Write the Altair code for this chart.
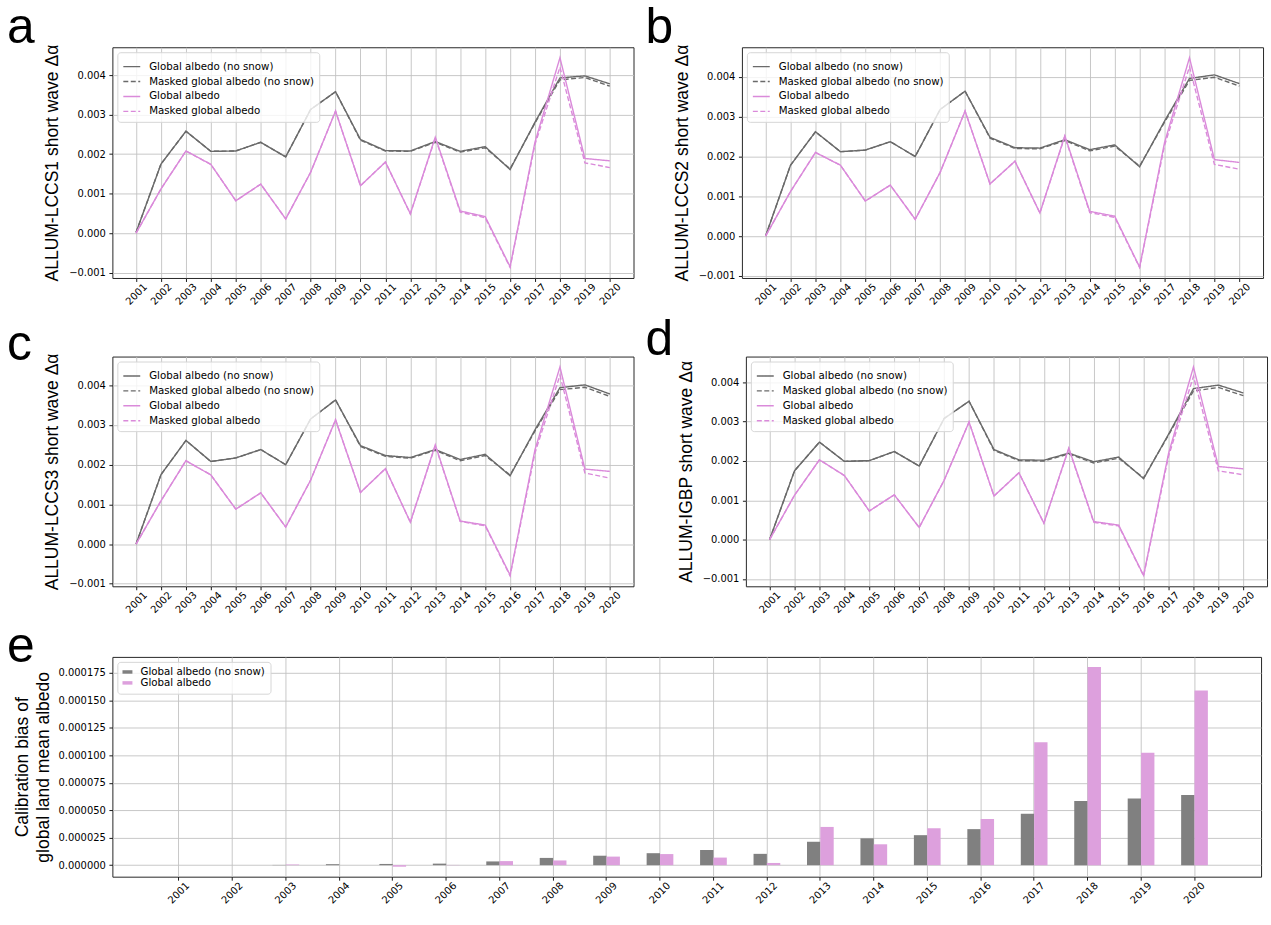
import altair as alt
import pandas as pd

years = list(range(2001, 2021))

series_names = [
    "Global albedo (no snow)",
    "Masked global albedo (no snow)",
    "Global albedo",
    "Masked global albedo",
]

# ---- panel a: ALLUM-LCCS1 ----
a_nosnow = [0.00002, 0.00175, 0.00258, 0.00207, 0.00208, 0.00230, 0.00193, 0.00313, 0.00358, 0.00237,
            0.00209, 0.00208, 0.00232, 0.00207, 0.00219, 0.00161, 0.00281, 0.00393, 0.00398, 0.00378]
a_nosnow_masked = [0.00002, 0.00175, 0.00258, 0.00207, 0.00208, 0.00230, 0.00193, 0.00313, 0.00358, 0.00235,
                   0.00208, 0.00207, 0.00230, 0.00205, 0.00216, 0.00163, 0.00279, 0.00388, 0.00394, 0.00372]
a_albedo = [0.00000, 0.00112, 0.00208, 0.00174, 0.00082, 0.00124, 0.00036, 0.00154, 0.00309, 0.00120,
            0.00180, 0.00049, 0.00243, 0.00056, 0.00042, -0.00085, 0.00231, 0.00444, 0.00189, 0.00183]
a_albedo_masked = [0.00000, 0.00112, 0.00208, 0.00174, 0.00082, 0.00124, 0.00036, 0.00154, 0.00309, 0.00120,
                   0.00180, 0.00049, 0.00241, 0.00053, 0.00039, -0.00087, 0.00225, 0.00420, 0.00178, 0.00166]

# ---- panel b: ALLUM-LCCS2 ----
b_nosnow = [0.00000, 0.00178, 0.00262, 0.00212, 0.00216, 0.00237, 0.00200, 0.00318, 0.00364, 0.00248,
            0.00222, 0.00221, 0.00242, 0.00217, 0.00229, 0.00174, 0.00289, 0.00396, 0.00405, 0.00383]
b_nosnow_masked = [0.00000, 0.00178, 0.00262, 0.00212, 0.00216, 0.00237, 0.00200, 0.00318, 0.00364, 0.00246,
                   0.00220, 0.00219, 0.00240, 0.00214, 0.00226, 0.00176, 0.00286, 0.00391, 0.00399, 0.00377]
b_albedo = [0.00000, 0.00112, 0.00210, 0.00178, 0.00088, 0.00128, 0.00042, 0.00160, 0.00314, 0.00131,
            0.00188, 0.00058, 0.00252, 0.00062, 0.00050, -0.00078, 0.00235, 0.00448, 0.00192, 0.00185]
b_albedo_masked = [0.00000, 0.00112, 0.00210, 0.00178, 0.00088, 0.00128, 0.00042, 0.00160, 0.00314, 0.00131,
                   0.00188, 0.00058, 0.00250, 0.00059, 0.00047, -0.00079, 0.00228, 0.00425, 0.00180, 0.00168]

# ---- panel c: ALLUM-LCCS3 ----
c_nosnow = [0.00000, 0.00175, 0.00261, 0.00208, 0.00217, 0.00238, 0.00200, 0.00315, 0.00363, 0.00248,
            0.00223, 0.00218, 0.00238, 0.00213, 0.00226, 0.00172, 0.00288, 0.00394, 0.00401, 0.00378]
c_nosnow_masked = [0.00000, 0.00175, 0.00261, 0.00208, 0.00217, 0.00238, 0.00200, 0.00315, 0.00363, 0.00246,
                   0.00221, 0.00216, 0.00236, 0.00210, 0.00223, 0.00174, 0.00285, 0.00389, 0.00395, 0.00372]
c_albedo = [0.00000, 0.00109, 0.00210, 0.00174, 0.00088, 0.00129, 0.00043, 0.00161, 0.00313, 0.00130,
            0.00190, 0.00055, 0.00250, 0.00058, 0.00048, -0.00078, 0.00238, 0.00446, 0.00189, 0.00183]
c_albedo_masked = [0.00000, 0.00109, 0.00210, 0.00174, 0.00088, 0.00129, 0.00043, 0.00161, 0.00313, 0.00130,
                   0.00190, 0.00055, 0.00248, 0.00057, 0.00046, -0.00080, 0.00230, 0.00425, 0.00179, 0.00166]

# ---- panel d: ALLUM-IGBP ----
d_nosnow = [0.00000, 0.00175, 0.00248, 0.00199, 0.00201, 0.00224, 0.00187, 0.00308, 0.00352, 0.00229,
            0.00203, 0.00202, 0.00220, 0.00198, 0.00210, 0.00155, 0.00268, 0.00384, 0.00393, 0.00373]
d_nosnow_masked = [0.00000, 0.00175, 0.00248, 0.00199, 0.00201, 0.00224, 0.00187, 0.00308, 0.00352, 0.00227,
                   0.00201, 0.00200, 0.00218, 0.00195, 0.00207, 0.00157, 0.00266, 0.00378, 0.00387, 0.00366]
d_albedo = [0.00000, 0.00113, 0.00203, 0.00163, 0.00073, 0.00114, 0.00031, 0.00151, 0.00299, 0.00111,
            0.00170, 0.00042, 0.00233, 0.00046, 0.00037, -0.00091, 0.00219, 0.00439, 0.00186, 0.00180]
d_albedo_masked = [0.00000, 0.00113, 0.00203, 0.00163, 0.00073, 0.00114, 0.00031, 0.00151, 0.00299, 0.00111,
                   0.00170, 0.00042, 0.00231, 0.00044, 0.00035, -0.00092, 0.00212, 0.00415, 0.00175, 0.00165]

# ---- panel e: calibration bias ----
bias_nosnow = [0.0, 0.0, 0.0000002, 0.0000009, 0.0000011, 0.0000014, 0.0000034, 0.0000066, 0.0000086, 0.0000109,
               0.0000138, 0.0000103, 0.0000213, 0.0000244, 0.0000273, 0.0000328, 0.0000468, 0.0000583, 0.0000606, 0.0000638]
bias_albedo = [0.0, 0.0, 0.0000006, 0.0, -0.0000014, 0.0000002, 0.0000037, 0.0000043, 0.0000078, 0.0000101,
               0.0000069, 0.0000020, 0.0000348, 0.0000190, 0.0000336, 0.0000420, 0.0001118, 0.0001805, 0.0001023, 0.0001589]

line_ticks = [-0.001, 0.0, 0.001, 0.002, 0.003, 0.004]
bar_ticks = [0.0, 0.000025, 0.00005, 0.000075, 0.0001, 0.000125, 0.00015, 0.000175]

GRAY_LINE = "#6a6a6a"
PINK_LINE = "#da8ada"
GRAY_BAR = "#808080"
PINK_BAR = "#dda0dd"

MINUS = "\u2212"
TICK_FONT = "DejaVu Sans"
TITLE_FONT = "Liberation Sans"


def padded(lo, hi, frac=0.05):
    span = hi - lo
    return [lo - span * frac, hi + span * frac]


def legend_box(**kw):
    return alt.Legend(
        title=None, orient="top-left", offset=5, padding=5,
        fillColor="rgba(255,255,255,0.8)", strokeColor="#d6d6d6", cornerRadius=3,
        labelFont=TICK_FONT, labelFontSize=10.3, labelColor="black", labelOffset=8,
        labelLimit=400, rowPadding=0, **kw,
    )


def line_legend():
    return legend_box(symbolType="stroke", symbolSize=289, symbolStrokeWidth=1.4)


def panel_letter(letter, dx, rise):
    # large panel tag drawn above the top-left corner of the plot frame
    return alt.Chart(pd.DataFrame({"tag": [letter]})).mark_text(
        fontSize=50, font=TITLE_FONT, color="black", align="left", baseline="alphabetic",
    ).encode(text="tag:N", x=alt.value(dx), y=alt.value(-rise))


def year_axis(**kw):
    # rotated year labels, nudged so each label is centred under its tick
    return alt.Axis(title=None, labelAngle=315, labelAlign="right", labelBaseline="middle",
                    labelOffset=9, **kw)


def line_panel(letter, ytitle, nosnow, nosnow_m, alb, alb_m, dx, rise, height):
    rows = []
    for name, vals in zip(series_names, [nosnow, nosnow_m, alb, alb_m]):
        for yr, v in zip(years, vals):
            rows.append({"year": yr, "series": name, "value": v})
    df = pd.DataFrame(rows)
    allv = nosnow + nosnow_m + alb + alb_m
    ydom = padded(min(allv), max(allv))
    xdom = padded(years[0], years[-1])

    lines = alt.Chart(df).mark_line(strokeWidth=1.4).encode(
        x=alt.X("year:Q", scale=alt.Scale(domain=xdom, nice=False, zero=False),
                axis=year_axis(values=years, format="d")),
        y=alt.Y("value:Q", scale=alt.Scale(domain=ydom, nice=False, zero=False),
                axis=alt.Axis(values=line_ticks, title=ytitle,
                              labelExpr=f"replace(format(datum.value, '.3f'), '-', '{MINUS}')",
                              titleX=-55, titleY=height / 2, titleAngle=270,
                              titleAlign="center", titleBaseline="alphabetic")),
        color=alt.Color("series:N", sort=series_names,
                        scale=alt.Scale(domain=series_names,
                                        range=[GRAY_LINE, GRAY_LINE, PINK_LINE, PINK_LINE]),
                        legend=line_legend()),
        strokeDash=alt.StrokeDash("series:N", sort=series_names,
                                  scale=alt.Scale(domain=series_names,
                                                  range=[[1, 0], [5, 2.5], [1, 0], [5, 2.5]]),
                                  legend=line_legend()),
    )
    return alt.layer(lines, panel_letter(letter, dx, rise)).properties(width=524, height=height)


pa = line_panel("a", "ALLUM-LCCS1 short wave \u0394\u03b1", a_nosnow, a_nosnow_masked, a_albedo, a_albedo_masked, -106, 4, 232)
pb = line_panel("b", "ALLUM-LCCS2 short wave \u0394\u03b1", b_nosnow, b_nosnow_masked, b_albedo, b_albedo_masked, -97, 4, 232)
pc = line_panel("c", "ALLUM-LCCS3 short wave \u0394\u03b1", c_nosnow, c_nosnow_masked, c_albedo, c_albedo_masked, -106, -3, 231)
pd_ = line_panel("d", "ALLUM-IGBP short wave \u0394\u03b1", d_nosnow, d_nosnow_masked, d_albedo, d_albedo_masked, -101, 2, 231)

# ---- bar panel ----
bar_series = ["Global albedo (no snow)", "Global albedo"]
bar_rows = []
for name, vals in zip(bar_series, [bias_nosnow, bias_albedo]):
    for yr, v in zip(years, vals):
        bar_rows.append({"year": str(yr), "series": name, "value": v})
bar_df = pd.DataFrame(bar_rows)
bar_dom = padded(min(bias_nosnow + bias_albedo), max(bias_nosnow + bias_albedo))

bars = alt.Chart(bar_df).mark_bar().encode(
    x=alt.X("year:O", sort=[str(y) for y in years],
            scale=alt.Scale(paddingInner=0, paddingOuter=0.745),
            axis=year_axis()),
    xOffset=alt.XOffset("series:N", sort=bar_series,
                        scale=alt.Scale(domain=bar_series, paddingInner=0, paddingOuter=1)),
    y=alt.Y("value:Q", scale=alt.Scale(domain=bar_dom, nice=False, zero=False),
            axis=alt.Axis(values=bar_ticks, format=".6f",
                          title=["Calibration bias of", "global land mean albedo"],
                          titleX=-85, titleY=221 / 2, titleAngle=270, titleAlign="center",
                          titleBaseline="alphabetic", titleLineHeight=21)),
    color=alt.Color("series:N", sort=bar_series,
                    scale=alt.Scale(domain=bar_series, range=[GRAY_BAR, PINK_BAR]),
                    legend=legend_box(symbolType="M-1,-0.35H1V0.35H-1Z", symbolSize=100,
                                      symbolStrokeWidth=0)),
)
pe = alt.layer(bars, panel_letter("e", -106, -5)).properties(width=1155, height=221)

row1 = alt.hconcat(pa, pb, spacing=10).resolve_scale(
    color="independent", strokeDash="independent").resolve_legend(color="independent", strokeDash="independent")
row2 = alt.hconcat(pc, pd_, spacing=10).resolve_scale(
    color="independent", strokeDash="independent").resolve_legend(color="independent", strokeDash="independent")
line_rows = alt.vconcat(row1, row2, spacing=6).resolve_scale(
    color="independent", strokeDash="independent").resolve_legend(color="independent", strokeDash="independent")

chart = alt.vconcat(line_rows, pe, spacing=5).resolve_scale(
    color="independent", strokeDash="independent", x="independent", y="independent"
).resolve_legend(color="independent", strokeDash="independent").properties(
    padding={"left": 6, "top": 0, "right": 3, "bottom": 5},
    background="white",
).configure_view(
    stroke="#262626", strokeWidth=1,
).configure_axis(
    grid=True, gridColor="#c2c2c2", gridWidth=0.9, domain=False,
    tickColor="black", tickSize=3.5, tickWidth=0.9,
    labelFont=TICK_FONT, labelFontSize=10, labelColor="black", labelPadding=3.5,
    titleFont=TITLE_FONT, titleFontSize=17.6, titleFontWeight="normal", titleColor="black",
)

chart.save("out.html", embed_options={"renderer": "svg", "actions": False})
